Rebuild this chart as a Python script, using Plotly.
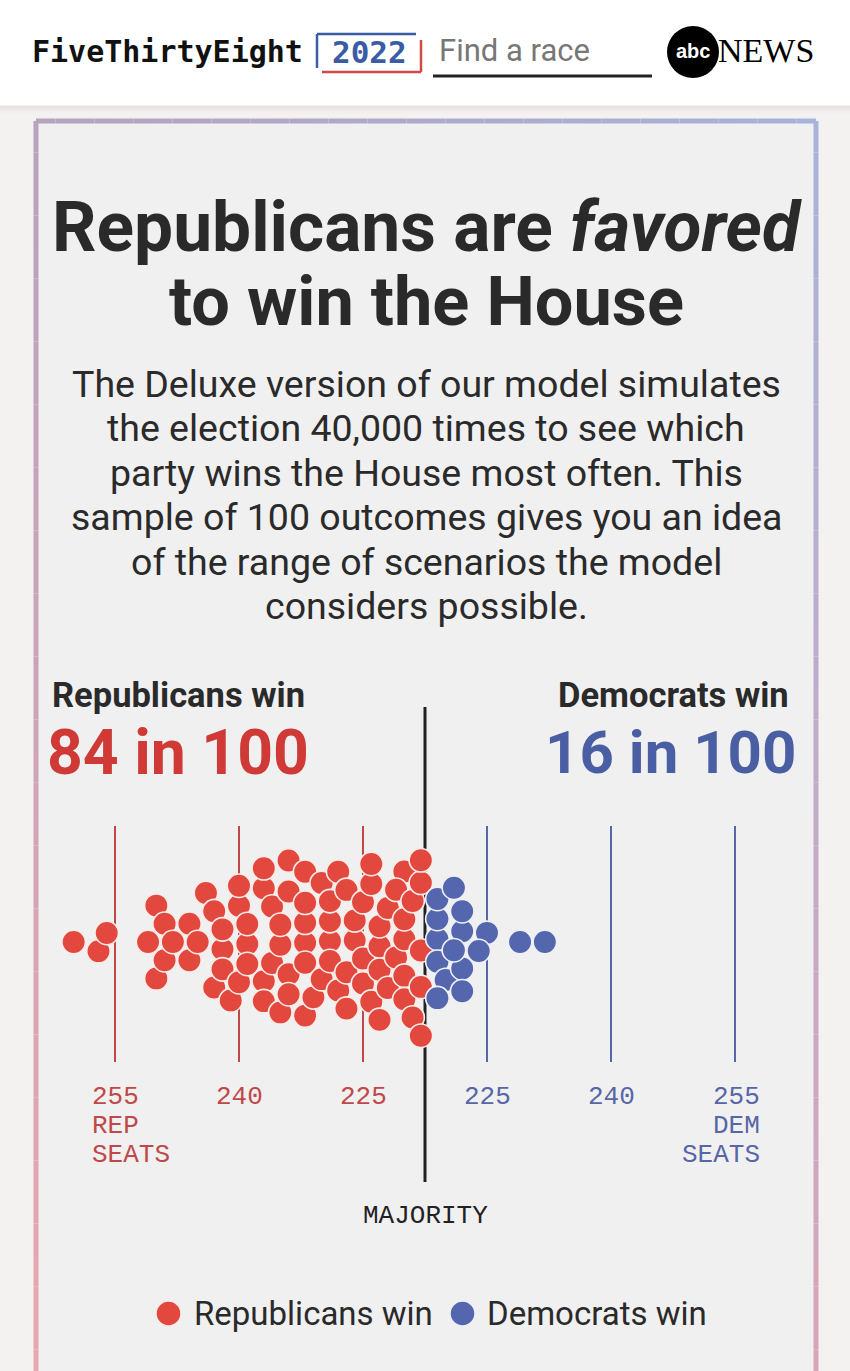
import numpy as np
import plotly.graph_objects as go

W, H = 850, 1371

# ---------------- data ----------------
# Republican seat totals in the 100 sampled outcomes (218+ = Republicans win)
rep_win_seats = [260, 257, 256, 251, 250, 250, 249, 249, 248, 246, 246, 245, 244, 243, 243,
                 242, 242, 242, 241, 240, 240, 240, 239, 239, 239, 237, 237, 237, 237, 236,
                 236, 235, 235, 235, 234, 234, 234, 234, 232, 232, 232, 232, 232, 232, 231,
                 230, 230, 229, 229, 229, 229, 228, 228, 227, 227, 227, 226, 226, 225, 225,
                 225, 224, 224, 224, 223, 223, 223, 223, 222, 222, 221, 220, 220, 220, 220,
                 220, 221, 219, 219, 218, 218, 218, 218, 218]
# Republican seat totals in outcomes where Democrats win (Dem seats = 435 - value)
dem_win_rep_seats = [216, 216, 215, 216, 216, 216, 213, 213, 214, 213, 214, 213, 210, 211, 206, 203]

TOTAL_SEATS = 435
MAJORITY_LINE = 217.5
rep_tick_vals = [255, 240, 225]          # Rep seat ticks
dem_tick_vals = [225, 240, 255]          # Dem seat ticks
rep_count, dem_count = 84, 16

RED = "#e3483f"
BLUE = "#5467ae"
RED_TXT = "#cf3a36"
BLUE_TXT = "#4a5ea3"
RED_TICK = "#c04848"
BLUE_TICK = "#5666a6"
DARK = "#2a2a2a"

X_RANGE = [268.911, 166.089]  # reversed: more Rep seats to the left
Y_CENTER_PX = 942
Y_RANGE = [H - Y_CENTER_PX, -Y_CENTER_PX]


def xp(px):
    return px / W


def yp(py):
    return 1 - py / H


# ---------------- beeswarm layout (y only, x fixed at value) ----------------
def beeswarm(vals, D, px_per_unit, center):
    xs = np.array(vals, float) * px_per_unit
    n = len(xs)
    order = sorted(range(n), key=lambda i: (abs(vals[i] - center), i))
    ys = np.zeros(n)
    placed = []
    for k, i in enumerate(order):
        intervals = []
        for j in placed:
            dx = xs[i] - xs[j]
            if abs(dx) < D:
                h = np.sqrt(D ** 2 - dx ** 2)
                intervals.append((ys[j] - h, ys[j] + h))
        cands = [0.0] + [a for a, b in intervals] + [b for a, b in intervals]
        pref = 1 if k % 2 == 0 else -1
        best = 0.0
        for c in sorted(cands, key=lambda c: (round(abs(c), 6), -pref * c)):
            if all(not (a + 1e-6 < c < b - 1e-6) for a, b in intervals):
                best = c
                break
        ys[i] = best
        placed.append(i)
    # relaxation: pull toward the centre line, resolve collisions along y
    dx = xs[:, None] - xs[None, :]
    near = (np.abs(dx) < D) & ~np.eye(n, dtype=bool)
    need = np.sqrt(np.clip(D ** 2 - dx ** 2, 0, None))
    idx = np.arange(n)
    tie = np.sign(idx[:, None] - idx[None, :])
    for it in range(500):
        if it < 350:
            ys *= 0.985
        for _ in range(2):
            dy = ys[:, None] - ys[None, :]
            sgn = np.where(dy == 0, tie, np.sign(dy))
            deficit = np.where(near & (np.abs(dy) < need), need - np.abs(dy), 0.0)
            ys = ys + 0.25 * (deficit * sgn).sum(1)
    return ys


all_vals = rep_win_seats + dem_win_rep_seats
px_per_seat = W / abs(X_RANGE[0] - X_RANGE[1])
offsets = beeswarm(all_vals, 20.0, px_per_seat, 229)
rep_y = offsets[:len(rep_win_seats)]
dem_y = offsets[len(rep_win_seats):]

fig = go.Figure()
fig.add_trace(go.Scatter(x=rep_win_seats, y=rep_y, mode="markers",
                         marker=dict(size=23.5, color=RED, line=dict(color="#f9ece9", width=1.6)),
                         hoverinfo="skip", showlegend=False))
fig.add_trace(go.Scatter(x=dem_win_rep_seats, y=dem_y, mode="markers",
                         marker=dict(size=23.5, color=BLUE, line=dict(color="#eef0f6", width=1.6)),
                         hoverinfo="skip", showlegend=False))

shapes = []
ann = []

# header
shapes.append(dict(type="rect", xref="paper", yref="paper", x0=0, x1=1, y0=yp(105), y1=1,
                   fillcolor="white", line=dict(width=0), layer="below"))
for i, c in enumerate(["#e6e2e1", "#ebe8e7", "#efeceb", "#f2efee"]):
    shapes.append(dict(type="rect", xref="paper", yref="paper", x0=0, x1=1,
                       y0=yp(106 + 2 * i + 2), y1=yp(106 + 2 * i),
                       fillcolor=c, line=dict(width=0), layer="below"))

# card
shapes.append(dict(type="rect", xref="paper", yref="paper", x0=xp(36), x1=xp(816),
                   y0=yp(H + 20), y1=yp(121), fillcolor="#f0f0f0", line=dict(width=0), layer="below"))


def lerp(c1, c2, t):
    a = [int(c1[i:i + 2], 16) for i in (1, 3, 5)]
    b = [int(c2[i:i + 2], 16) for i in (1, 3, 5)]
    return "#%02x%02x%02x" % tuple(round(a[k] + (b[k] - a[k]) * t) for k in range(3))


TL, TR, BL, BR = "#b6a3be", "#a7b3d9", "#e9a6af", "#d8a4b8"
N = 40
for k in range(N):
    t0, t1 = k / N, (k + 1) / N
    tm = (t0 + t1) / 2
    shapes.append(dict(type="line", xref="paper", yref="paper",
                       x0=xp(36 + 780 * t0), x1=xp(36 + 780 * t1), y0=yp(121), y1=yp(121),
                       line=dict(color=lerp(TL, TR, tm), width=5), layer="below"))
    shapes.append(dict(type="line", xref="paper", yref="paper",
                       x0=xp(36), x1=xp(36), y0=yp(121 + 1260 * t0), y1=yp(121 + 1260 * t1),
                       line=dict(color=lerp(TL, BL, tm), width=5), layer="below"))
    shapes.append(dict(type="line", xref="paper", yref="paper",
                       x0=xp(816), x1=xp(816), y0=yp(121 + 1260 * t0), y1=yp(121 + 1260 * t1),
                       line=dict(color=lerp(TR, BR, tm), width=5), layer="below"))

# header content
ann.append(dict(text="<b>FiveThirtyEight</b>", x=xp(30), y=yp(52), xanchor="left", yanchor="middle",
                font=dict(family="DejaVu Sans Mono", size=30, color="#111")))
ann.append(dict(text="<b>2022</b>", x=xp(369), y=yp(52), xanchor="center", yanchor="middle",
                font=dict(family="DejaVu Sans Mono", size=31, color="#3a5ba6")))
for (x0, y0, x1, y1, c) in [(317, 34, 416, 34, "#3a5ba6"), (317, 34, 317, 68, "#3a5ba6"),
                            (421, 40, 421, 72, "#cf4a45"), (322, 72, 421, 72, "#cf4a45")]:
    shapes.append(dict(type="line", xref="paper", yref="paper", x0=xp(x0), x1=xp(x1),
                       y0=yp(y0), y1=yp(y1), line=dict(color=c, width=2.5)))
ann.append(dict(text="Find a race", x=xp(437), y=yp(50), xanchor="left", yanchor="middle",
                font=dict(family="Roboto", size=31, color="#777")))
shapes.append(dict(type="line", xref="paper", yref="paper", x0=xp(433), x1=xp(652),
                   y0=yp(76), y1=yp(76), line=dict(color="#222", width=3)))
shapes.append(dict(type="circle", xref="paper", yref="paper", x0=xp(667), x1=xp(719),
                   y0=yp(78), y1=yp(26), fillcolor="#000", line=dict(width=0)))
ann.append(dict(text="<b>abc</b>", x=xp(693), y=yp(51), xanchor="center", yanchor="middle",
                font=dict(family="Liberation Sans", size=20, color="white")))
ann.append(dict(text="NEWS", x=xp(716), y=yp(51), xanchor="left", yanchor="middle",
                font=dict(family="Liberation Serif", size=34, color="#000")))

# title & text
TF = "Roboto"
ann.append(dict(text="<b>Republicans are <i>favored</i></b>", x=xp(427), y=yp(228),
                xanchor="center", yanchor="middle", font=dict(family=TF, size=69.5, color=DARK)))
ann.append(dict(text="<b>to win the House</b>", x=xp(426), y=yp(302),
                xanchor="center", yanchor="middle", font=dict(family=TF, size=68.5, color=DARK)))
para = ["The Deluxe version of our model simulates",
        "the election 40,000 times to see which",
        "party wins the House most often. This",
        "sample of 100 outcomes gives you an idea",
        "of the range of scenarios the model",
        "considers possible."]
for i, line in enumerate(para):
    ann.append(dict(text=line, x=xp(426), y=yp(384 + 44.4 * i), xanchor="center", yanchor="middle",
                    font=dict(family=TF, size=37.5, color=DARK)))

ann.append(dict(text="<b>Republicans win</b>", x=xp(50), y=yp(695), xanchor="left", yanchor="middle",
                font=dict(family=TF, size=34.5, color=DARK)))
ann.append(dict(text=f"<b>{rep_count} in 100</b>", x=xp(45), y=yp(752), xanchor="left", yanchor="middle",
                font=dict(family=TF, size=62.5, color=RED_TXT)))
ann.append(dict(text="<b>Democrats win</b>", x=xp(791), y=yp(695), xanchor="right", yanchor="middle",
                font=dict(family=TF, size=34.5, color=DARK)))
ann.append(dict(text=f"<b>{dem_count} in 100</b>", x=xp(798), y=yp(752), xanchor="right", yanchor="middle",
                font=dict(family=TF, size=60, color=BLUE_TXT)))

# grid lines and majority line (data coordinates on x)
for v in rep_tick_vals:
    shapes.append(dict(type="line", xref="x", yref="paper", x0=v, x1=v, y0=yp(826), y1=yp(1062),
                       line=dict(color=RED_TICK, width=2), layer="below"))
for v in dem_tick_vals:
    r = TOTAL_SEATS - v
    shapes.append(dict(type="line", xref="x", yref="paper", x0=r, x1=r, y0=yp(826), y1=yp(1062),
                       line=dict(color=BLUE_TICK, width=2), layer="below"))
shapes.append(dict(type="line", xref="x", yref="paper", x0=MAJORITY_LINE, x1=MAJORITY_LINE,
                   y0=yp(707), y1=yp(1182), line=dict(color="#222", width=3), layer="below"))

MONO = "Liberation Mono"
TS = 26
LINE_Y = [1097, 1126, 1155]
for i, v in enumerate(rep_tick_vals):
    if i == 0:
        for txt, py in zip([f"{v}", "REP", "SEATS"], LINE_Y):
            ann.append(dict(text=txt, x=v, xref="x", xshift=-25, y=yp(py), yref="paper",
                            xanchor="left", yanchor="middle",
                            font=dict(family=MONO, size=TS, color=RED_TICK)))
    else:
        ann.append(dict(text=f"{v}", x=v, xref="x", y=yp(LINE_Y[0]), yref="paper",
                        xanchor="center", yanchor="middle", font=dict(family=MONO, size=TS, color=RED_TICK)))
for i, v in enumerate(dem_tick_vals):
    r = TOTAL_SEATS - v
    if i == len(dem_tick_vals) - 1:
        for txt, py in zip([f"{v}", "DEM", "SEATS"], LINE_Y):
            ann.append(dict(text=txt, x=r, xref="x", xshift=27, y=yp(py), yref="paper",
                            xanchor="right", yanchor="middle",
                            font=dict(family=MONO, size=TS, color=BLUE_TICK)))
    else:
        ann.append(dict(text=f"{v}", x=r, xref="x", y=yp(LINE_Y[0]), yref="paper",
                        xanchor="center", yanchor="middle", font=dict(family=MONO, size=TS, color=BLUE_TICK)))
ann.append(dict(text="MAJORITY", x=MAJORITY_LINE, xref="x", y=yp(1216), yref="paper",
                xanchor="center", yanchor="middle", font=dict(family=MONO, size=TS, color="#222")))

# legend
shapes.append(dict(type="circle", xref="paper", yref="paper", x0=xp(156), x1=xp(181),
                   y0=yp(1326), y1=yp(1301), fillcolor=RED, line=dict(color="#f9ece9", width=1.5)))
shapes.append(dict(type="circle", xref="paper", yref="paper", x0=xp(450), x1=xp(475),
                   y0=yp(1326), y1=yp(1301), fillcolor=BLUE, line=dict(color="#eef0f6", width=1.5)))
ann.append(dict(text="Republicans win", x=xp(192), y=yp(1313), xanchor="left", yanchor="middle",
                font=dict(family=TF, size=33, color=DARK)))
ann.append(dict(text="Democrats win", x=xp(485), y=yp(1313), xanchor="left", yanchor="middle",
                font=dict(family=TF, size=33, color=DARK)))

for a in ann:
    a.setdefault("xref", "paper")
    a.setdefault("yref", "paper")
    a["showarrow"] = False

fig.update_layout(
    width=W, height=H, margin=dict(l=0, r=0, t=0, b=0),
    paper_bgcolor="#f4f2f1", plot_bgcolor="rgba(0,0,0,0)",
    xaxis=dict(range=X_RANGE, domain=[0, 1], visible=False, fixedrange=True),
    yaxis=dict(range=Y_RANGE, domain=[0, 1], visible=False, fixedrange=True),
    shapes=shapes, annotations=ann, showlegend=False,
)

fig.write_html("out.html", config={"displayModeBar": False})
